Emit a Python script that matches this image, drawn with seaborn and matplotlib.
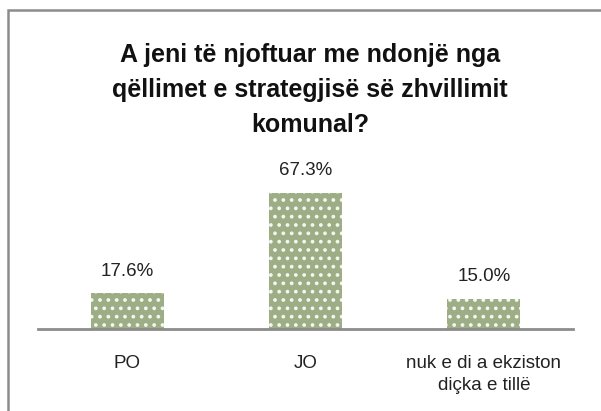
import pandas as pd
import matplotlib.pyplot as plt
import seaborn as sns
from matplotlib.patches import Rectangle

# data
categories = ['PO', 'JO', 'nuk e di a ekziston\ndiçka e tillë']
values = [17.6, 67.3, 15.0]
labels = ['17.6%', '67.3%', '15.0%']
title = 'A jeni të njoftuar me ndonjë nga\nqëllimet e strategjisë së zhvillimit\nkomunal?'

df = pd.DataFrame({'cat': categories, 'val': values})

sns.set_style('white')
plt.rcParams['font.family'] = ['Liberation Sans', 'DejaVu Sans']
plt.rcParams['hatch.linewidth'] = 1.5

W, H = 601, 411
fig = plt.figure(figsize=(W / 100, H / 100), dpi=100)
ax = fig.add_axes([38 / W, 82 / H, (573 - 38) / W, (329 - 150) / H])

sns.barplot(data=df, x='cat', y='val', ax=ax, color='#9dad85',
            width=0.41, saturation=1)
for p in ax.patches:
    p.set_hatch('..')
    p.set_edgecolor('#f4f6ef')
    p.set_linewidth(0)

ax.set_ylim(0, 179 / 2.02)
ax.set_xlabel('')
ax.set_ylabel('')
ax.set_yticks([])
for s in ['top', 'right', 'left']:
    ax.spines[s].set_visible(False)
ax.spines['bottom'].set_color('#8c8c8c')
ax.spines['bottom'].set_linewidth(2)
ax.tick_params(axis='x', length=0, pad=19, labelsize=13.5, labelcolor='#222222')
for lbl in ax.get_xticklabels():
    lbl.set_linespacing(1.35)

for i, (v, t) in enumerate(zip(values, labels)):
    ax.annotate(t, (i, v), xytext=(0, 10), textcoords='offset points',
                ha='center', va='bottom', fontsize=13.5, color='#222222')

fig.text(310 / W, 1 - 90 / H, title, ha='center', va='center',
         fontsize=18, fontweight='bold', linespacing=1.6, color='#111111')

# chart frame
fig.patches.append(Rectangle((7.5 / W, -0.1), 1.2, 1 - 9.5 / H + 0.1,
                             transform=fig.transFigure, fill=False,
                             edgecolor='#8c8c8c', linewidth=1.8))

fig.savefig('out.png', dpi=100)
